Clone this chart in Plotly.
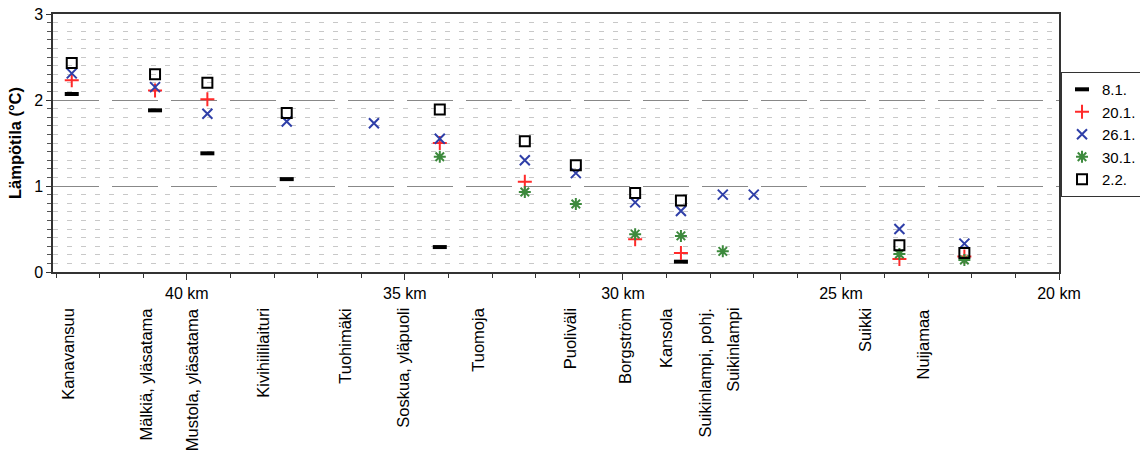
import plotly.graph_objects as go

stations = ["Kanavansuu", "Mälkiä, yläsatama", "Mustola, yläsatama", "Kivihiililaituri",
            "Tuohimäki", "Soskua, yläpuoli", "Tuomoja", "Puoliväli", "Borgström",
            "Kansola", "Suikinlampi, pohj.", "Suikinlampi", "Suikki", "Nuijamaa"]
station_km = [42.64, 40.73, 39.53, 37.71, 35.71, 34.2, 32.25, 31.08, 29.72,
              28.67, 27.71, 27.0, 23.66, 22.17]
label_km = [42.73, 40.96, 39.89, 38.26, 36.38, 35.05, 33.33, 31.22, 29.95,
            29.01, 28.12, 27.48, 24.45, 23.12]

t_0801 = [2.07, 1.88, 1.38, 1.08, None, 0.29, None, None, None, 0.12, None, None, None, None]
t_2001 = [2.23, 2.11, 2.01, None, None, 1.50, 1.05, None, 0.38, 0.22, None, None, 0.15, 0.18]
t_2601 = [2.31, 2.15, 1.84, 1.75, 1.73, 1.55, 1.30, 1.15, 0.81, 0.71, 0.90, 0.90, 0.50, 0.33]
t_3001 = [None, None, None, None, None, 1.34, 0.93, 0.79, 0.44, 0.42, 0.24, None, 0.21, 0.14]
t_0202 = [2.43, 2.30, 2.20, 1.85, None, 1.89, 1.52, 1.24, 0.92, 0.83, None, None, 0.31, 0.22]

series_names = ["8.1.", "20.1.", "26.1.", "30.1.", "2.2."]
series_vals = [t_0801, t_2001, t_2601, t_3001, t_0202]
styles = [
    dict(symbol="line-ew", size=10, color="black", line=dict(color="black", width=4)),
    dict(symbol="cross-thin", size=10, color="#ff2a2a", line=dict(color="#ff2a2a", width=2)),
    dict(symbol="x-thin", size=10, color="#2f3fa8", line=dict(color="#2f3fa8", width=2)),
    dict(symbol="asterisk", size=10, color="#3d8a3d", line=dict(color="#3d8a3d", width=2)),
    dict(symbol="square-open", size=10, color="black", line=dict(color="black", width=2)),
]

fig = go.Figure()
for name, vals, st in zip(series_names, series_vals, styles):
    fig.add_trace(go.Scatter(x=station_km, y=vals, mode="markers", name=name,
                             marker=st, cliponaxis=False))

FONT = "Liberation Sans, Arial, sans-serif"

for name, km in zip(stations, label_km):
    fig.add_annotation(x=km, xref="x", y=-0.1318, yref="paper", text=name,
                       textangle=-90, xanchor="center", yanchor="top",
                       showarrow=False, font=dict(family=FONT, size=16.5, color="black"))

fig.update_layout(
    width=1140, height=456,
    margin=dict(l=53, r=81, t=14, b=184, autoexpand=False),
    paper_bgcolor="white", plot_bgcolor="white",
    font=dict(family=FONT, size=16, color="black"),
    showlegend=True,
    legend=dict(x=1.002, y=0.775, xanchor="left", yanchor="top",
                bordercolor="#333", borderwidth=1, bgcolor="white",
                font=dict(size=15), itemwidth=30, tracegroupgap=0),
    xaxis=dict(range=[43.07, 20], tickmode="linear", tick0=20, dtick=5,
               ticksuffix=" km", showgrid=False, zeroline=False,
               showline=True, linecolor="#333", linewidth=1.5, mirror=True,
               ticks="outside", ticklen=6, tickcolor="#333",
               minor=dict(dtick=1, tick0=20, ticks="outside", ticklen=4, tickcolor="#333", showgrid=False)),
    yaxis=dict(range=[0, 3], tickmode="linear", tick0=0, dtick=1,
               showgrid=True, gridcolor="#888", gridwidth=1.2, griddash="46px,13px",
               zeroline=False, showline=True, linecolor="#333", linewidth=1.5, mirror=True,
               ticks="outside", ticklen=5, tickcolor="#333",
               title=dict(text="<b>Lämpötila (°C)</b>", font=dict(size=16.5), standoff=8),
               minor=dict(dtick=0.1, tick0=0, ticks="outside", ticklen=4, tickcolor="#555",
                          showgrid=True, gridcolor="#c8c8c8", gridwidth=1, griddash="5px,9px")),
)

fig.write_html("out.html")
